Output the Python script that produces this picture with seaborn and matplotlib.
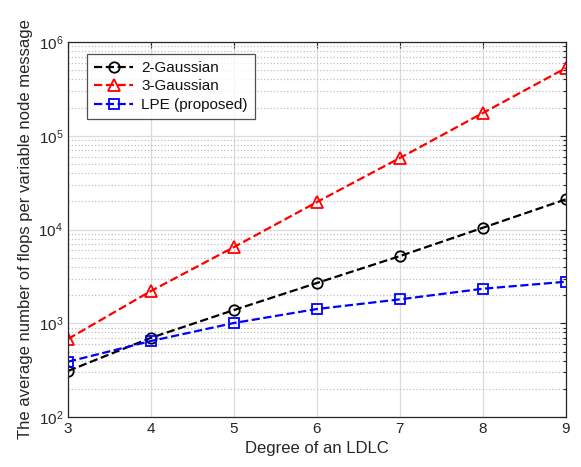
import matplotlib
matplotlib.use("Agg")
import matplotlib.pyplot as plt
import matplotlib.ticker as mticker
import pandas as pd
import seaborn as sns

sns.set_theme(style="white")
plt.rcParams["font.family"] = ["Liberation Sans", "DejaVu Sans"]
plt.rcParams["mathtext.fontset"] = "custom"
plt.rcParams["mathtext.rm"] = "Liberation Sans"

degree = [3, 4, 5, 6, 7, 8, 9]
gauss2 = [310, 700, 1384, 2690, 5210, 10450, 21000]
gauss3 = [680, 2210, 6500, 19650, 58000, 175000, 528000]
lpe = [389, 647, 1007, 1420, 1800, 2336, 2775]

df = pd.DataFrame({"degree": degree, "2-Gaussian": gauss2,
                   "3-Gaussian": gauss3, "LPE (proposed)": lpe})

series = [
    ("2-Gaussian", "black", "o", 7.5),
    ("3-Gaussian", "red", "^", 8),
    ("LPE (proposed)", "blue", "s", 6.5),
]

fig = plt.figure(figsize=(5.81, 4.67), dpi=100)
ax = fig.add_axes([0.117, 0.107, 0.857, 0.803])

for name, color, marker, msize in series:
    sns.lineplot(data=df, x="degree", y=name, ax=ax, color=color,
                 linestyle="--", dashes=(4, 2.5), linewidth=1.6,
                 marker=marker, markersize=msize,
                 markerfacecolor="none", markeredgecolor=color,
                 markeredgewidth=1.3, label=name)

ax.set_yscale("log")
ax.set_xlim(3, 9)
ax.set_ylim(1e2, 1e6)
ax.set_xticks(degree)
ax.yaxis.set_major_locator(mticker.LogLocator(base=10, numticks=10))
ax.yaxis.set_minor_locator(mticker.LogLocator(base=10, subs=range(2, 10), numticks=20))
ax.yaxis.set_minor_formatter(mticker.NullFormatter())

ax.grid(True, which="major", color="#dcdcdc", linestyle="-", linewidth=0.9)
ax.grid(True, which="minor", axis="y", color="#c0c0c0", linestyle=":", linewidth=0.9)
ax.set_axisbelow(True)

ax.tick_params(which="both", direction="in", top=True, right=True,
               colors="#262626", labelsize=11, width=0.8)
ax.tick_params(which="major", length=4)
ax.tick_params(which="minor", length=2.5)
for side in ax.spines.values():
    side.set_color("#262626")
    side.set_linewidth(0.9)

ax.set_xlabel("Degree of an LDLC", fontsize=12, color="#262626")
ax.set_ylabel("The average number of flops per variable node message",
              fontsize=12, color="#262626")

leg = ax.legend(loc="upper left", bbox_to_anchor=(0.038, 0.968), borderaxespad=0,
                fontsize=11, frameon=True, fancybox=False, edgecolor="#262626",
                handlelength=2.6, handletextpad=0.5, borderpad=0.45,
                labelspacing=0.3)
leg.get_frame().set_linewidth(0.9)
leg.get_frame().set_facecolor("white")
for text in leg.get_texts():
    text.set_color("#111111")

fig.savefig("out.png", dpi=100)
plt.close(fig)
